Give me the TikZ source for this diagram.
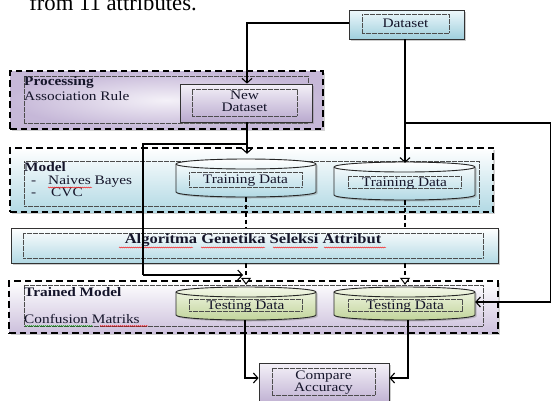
\documentclass[tikz,border=0pt]{standalone}
\usepackage{fontspec}
\setmainfont[FakeStretch=1.18]{Liberation Serif}
\newfontfamily\capfont{Liberation Serif}
\usetikzlibrary{arrows.meta,shadows,decorations.pathmorphing,fit}
\definecolor{dsA}{HTML}{EEF8FB}
\definecolor{dsB}{HTML}{9FCFDD}
\definecolor{blA}{HTML}{FFFFFF}
\definecolor{blB}{HTML}{B2D9E4}
\definecolor{puA}{HTML}{F4F1F8}
\definecolor{puB}{HTML}{B9A9CE}
\definecolor{prB}{HTML}{C6B8D8}
\definecolor{tmB}{HTML}{CCC0DC}
\definecolor{grA}{HTML}{F3F7E8}
\definecolor{grB}{HTML}{C2D59B}
\definecolor{txt}{HTML}{15152A}
\tikzset{
  outerbox/.style={draw=black, line width=1.7pt, dash pattern=on 6.5pt off 4pt,
    drop shadow={shadow xshift=1.5pt, shadow yshift=-1.5pt, opacity=0.35}},
  solidbox/.style={draw=black!80, line width=0.8pt,
    drop shadow={shadow xshift=1.5pt, shadow yshift=-1.5pt, opacity=0.4}},
  dotbox/.style={draw=black!70, line width=0.5pt, dash pattern=on 0.6pt off 0.6pt},
  lbl/.style={text=txt, inner sep=0pt, font=\fontsize{13}{15}\selectfont},
  blbl/.style={lbl, font=\bfseries\fontsize{13}{15}\selectfont},
  conn/.style={draw=black, line width=1.1pt},
  barb/.style={-{Straight Barb[length=4.5pt,width=10pt,line width=1.1pt]}},
  opentri/.style={-{Triangle[open,length=7pt,width=10pt,fill=white,line width=1pt]}},
  dashconn/.style={draw=black, line width=1.2pt, dash pattern=on 4.5pt off 3pt},
  wavy/.style={line width=0.4pt, decorate, decoration={snake, amplitude=0.5pt, segment length=2pt}},
}
\newcommand\drawcyl[7]{%
  \pgfmathsetmacro\cxr{(#4-#2)/2}
  \pgfmathsetmacro\cxc{(#4+#2)/2}
  \pgfmathsetmacro\cyt{#3+5}
  \pgfmathsetmacro\cyb{#5-5}
  \draw[line width=0.9pt, draw=black!85, top color=#6, bottom color=#7,
    drop shadow={shadow xshift=1.5pt, shadow yshift=-1.5pt, opacity=0.4}]
    (#2,\cyt) -- (#2,\cyb) arc[start angle=180, end angle=0, x radius=\cxr, y radius=5]
    -- (#4,\cyt) arc[start angle=0, end angle=-180, x radius=\cxr, y radius=5] -- cycle;
  \draw[line width=0.9pt, draw=black!85] (#2,\cyt) arc[start angle=180, end angle=0, x radius=\cxr, y radius=5];
  \node[inner sep=0pt, fit={(#2,#3) (#4,#5)}] (#1) {};
}
\begin{document}
\begin{tikzpicture}[x=1pt,y=-1pt]
\useasboundingbox (0,0) rectangle (551,400);
\clip (0,0) rectangle (551,400);

% caption fragment at top
\node[anchor=base east, inner sep=0pt, font=\capfont\fontsize{22.7}{26}\selectfont] (cap) at (197,10) {from 11 attributes.};

% ---------- containers ----------
\node[outerbox, inner color=puA, outer color=prB, minimum width=313pt, minimum height=58pt, inner sep=0pt] (proc) at (166.5,100) {};
\node[dotbox, minimum width=284pt, minimum height=47pt, inner sep=0pt] (procin) at (166,99.5) {};

\node[outerbox, top color=blA, bottom color=blB, minimum width=483pt, minimum height=64pt, inner sep=0pt] (model) at (251.5,180) {};
\node[dotbox, minimum width=455pt, minimum height=45pt, inner sep=0pt] (modelin) at (251.5,183.5) {};

\node[solidbox, top color=blA, bottom color=blB, minimum width=487pt, minimum height=35pt, inner sep=0pt] (ga) at (254.5,245.5) {};
\node[dotbox, minimum width=460pt, minimum height=25pt, inner sep=0pt] (gain) at (253,245.5) {};

\node[outerbox, top color=white, bottom color=tmB, minimum width=489pt, minimum height=52pt, inner sep=0pt] (tm) at (253.5,307) {};
\node[dotbox, minimum width=459pt, minimum height=41pt, inner sep=0pt] (tmin) at (253.5,305.5) {};

% ---------- boxes ----------
\node[solidbox, top color=dsA, bottom color=dsB, minimum width=115pt, minimum height=29pt, inner sep=0pt] (ds) at (406.5,24.5) {};
\node[dotbox, minimum width=87pt, minimum height=19pt, inner sep=0pt] (dsin) at (405.5,23.5) {};
\node[lbl, anchor=base] (dst) at (405.5,27) {Dataset};

\node[solidbox, top color=puA, bottom color=puB, minimum width=132pt, minimum height=38pt, inner sep=0pt] (nd) at (246,103) {};
\node[dotbox, minimum width=105pt, minimum height=27pt, inner sep=0pt] (ndin) at (244.5,102.5) {};
\node[lbl, anchor=base] (ndt1) at (244.5,99) {New};
\node[lbl, anchor=base] (ndt2) at (244.5,111) {Dataset};

\node[solidbox, top color=puA, bottom color=puB, minimum width=130pt, minimum height=45pt, inner sep=0pt] (ca) at (324,385.5) {};
\node[dotbox, minimum width=103pt, minimum height=27pt, inner sep=0pt] (cain) at (323.5,381.5) {};
\node[lbl, anchor=base] (cat1) at (323.5,379) {Compare};
\node[lbl, anchor=base] (cat2) at (323.5,391) {Accuracy};

% ---------- cylinders ----------
\drawcyl{tr1}{176}{159}{316}{197}{white}{blB}
\node[dotbox, minimum width=113pt, minimum height=15pt, inner sep=0pt] (tr1in) at (245.5,179.5) {};
\node[lbl, anchor=base] (tr1t) at (245.5,183.5) {Training Data};

\drawcyl{tr2}{334}{162}{475}{200}{white}{blB}
\node[dotbox, minimum width=113pt, minimum height=12pt, inner sep=0pt] (tr2in) at (404.5,182) {};
\node[lbl, anchor=base] (tr2t) at (404.5,186) {Training Data};

\drawcyl{ts1}{176}{287}{316}{320}{grA}{grB}
\node[dotbox, minimum width=113pt, minimum height=12pt, inner sep=0pt] (ts1in) at (245.5,305) {};
\node[lbl, anchor=base] (ts1t) at (245.5,309.5) {Testing Data};

\drawcyl{ts2}{334}{287}{475}{320}{grA}{grB}
\node[dotbox, minimum width=114pt, minimum height=12pt, inner sep=0pt] (ts2in) at (405,305) {};
\node[lbl, anchor=base] (ts2t) at (405,309.5) {Testing Data};

% ---------- container labels ----------
\node[blbl, anchor=base west] (pl1) at (24,85) {Processing};
\node[lbl, anchor=base west] (pl2) at (24,100) {Association Rule};

\node[blbl, anchor=base west] (ml1) at (24,171) {Model};
\node[lbl, anchor=base west] (ml2a) at (31,184) {-};
\node[lbl, anchor=base west] (ml2) at (48,184) {Naives Bayes};
\node[lbl, anchor=base west] (ml3a) at (31,196) {-};
\node[lbl, anchor=base west] (ml3) at (51,196) {CVC};

\node[blbl, anchor=base, font=\bfseries\fontsize{14}{16}\selectfont] (gat) at (253,243) {Algoritma Genetika Seleksi Attribut};

\node[blbl, anchor=base west] (tl1) at (24,296) {Trained Model};
\node[lbl, anchor=base west] (tl2) at (24,323) {Confusion Matriks};

% spell-check underlines
\draw[wavy, red] (48,187.5) -- (92,187.5);
\draw[wavy, red] (119,247.5) -- (193,247.5);
\draw[wavy, red] (201,247.5) -- (265,247.5);
\draw[wavy, red] (273,247.5) -- (318,247.5);
\draw[wavy, red] (324,247.5) -- (386,247.5);
\draw[wavy, green!60!black] (25,326) -- (93,326);
\draw[wavy, red] (100,326) -- (148,326);

% ---------- connectors ----------
\coordinate (c1) at (247,23);
\coordinate (br1) at (405,123);
\coordinate (c2) at (551,123);
\coordinate (c3) at (551,302);
\coordinate (br2) at (247,144);
\coordinate (c4) at (143,144);
\coordinate (c5) at (143,275);
\coordinate (c6) at (245,378);
\coordinate (c7) at (408,378);

\draw[conn, barb] (ds.west |- c1) -- (c1) -- (nd.north -| c1);
\draw[conn, barb] (ds.south -| br1) -- ([yshift=-1pt]tr2.north -| br1);
\draw[conn] (br1) -- (c2) -- (c3);
\draw[conn, barb] (c3) -- (ts2.east |- c3);
\draw[conn, barb] (nd.south -| br2) -- ([yshift=5pt]tr1.north -| br2);
\draw[conn] (br2) -- (c4) -- (c5);
\draw[conn, barb] (c5) -- (243,275);

\draw[dashconn] (tr1.south -| 246,0) -- (ga.north -| 246,0);
\draw[dashconn, opentri] (ga.south -| 246,0) -- ([yshift=2pt]ts1.north -| 246,0);
\draw[dashconn] (tr2.south -| 405,0) -- (ga.north -| 405,0);
\draw[dashconn, opentri] (ga.south -| 405,0) -- ([yshift=2pt]ts2.north -| 405,0);

\draw[conn, barb] (ts1.south -| c6) -- (c6) -- (ca.west |- c6);
\draw[conn, barb] (ts2.south -| c7) -- (c7) -- (ca.east |- c7);
\end{tikzpicture}
\end{document}
